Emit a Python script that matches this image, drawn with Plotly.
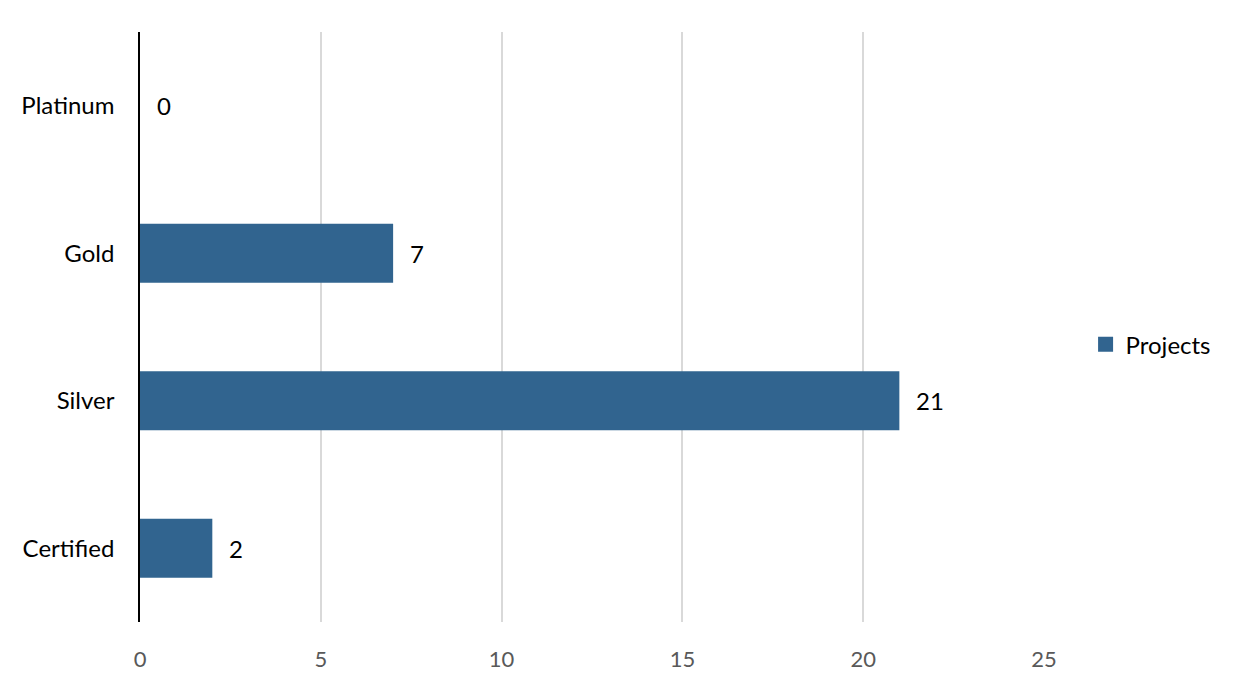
import plotly.graph_objects as go

categories = ["Platinum", "Gold", "Silver", "Certified"]
projects = [0, 7, 21, 2]
x_ticks = [0, 5, 10, 15, 20, 25]

bar_color = "#31648f"

fig = go.Figure()
fig.add_trace(go.Bar(
    y=categories, x=projects, orientation="h", name="Projects",
    marker=dict(color=bar_color, line=dict(width=0)),
    width=0.4, showlegend=False,
))
# legend entry with a larger square symbol
fig.add_trace(go.Scatter(
    x=[None], y=[None], mode="markers", name="Projects",
    marker=dict(symbol="square", size=15, color=bar_color),
    showlegend=True, hoverinfo="skip",
))

for c, v in zip(categories, projects):
    fig.add_annotation(x=v, y=c, text=str(v), showarrow=False,
                       xanchor="left", xshift=15,
                       font=dict(family="Lato", size=24, color="#000000"))

fig.update_layout(
    width=1232, height=683,
    margin=dict(l=132, r=196, t=24, b=69),
    paper_bgcolor="white", plot_bgcolor="white",
    font=dict(family="Lato", color="#000000"),
    xaxis=dict(range=[0, 25], tickvals=x_ticks, showgrid=True,
               gridcolor="#d9d9d9", gridwidth=2, zeroline=False,
               showline=False, tickfont=dict(size=22, color="#595959"),
               ticks="", ticklen=0, automargin=False,
               ticklabelstandoff=22),
    yaxis=dict(categoryorder="array", categoryarray=categories[::-1],
               showline=True, linecolor="#000000", linewidth=1.5,
               showgrid=False, ticks="", tickfont=dict(size=24, color="#000000"),
               ticklabelstandoff=19, automargin=False),
    legend=dict(x=1.046, y=0.47, yanchor="middle", xanchor="left",
                font=dict(size=24, color="#000000"),
                itemwidth=30),
)

fig.write_html("out.html")
